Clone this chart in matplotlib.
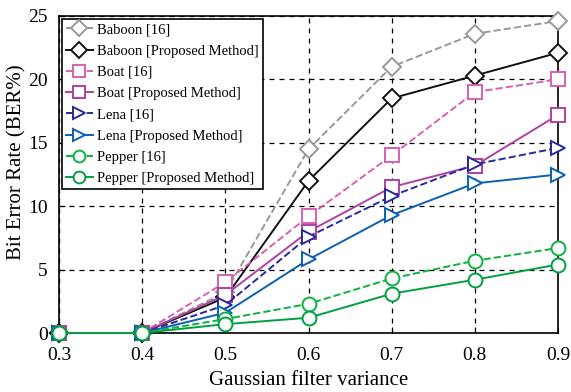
import matplotlib
matplotlib.use("Agg")
import matplotlib.pyplot as plt

plt.rcParams['font.family'] = ['Liberation Serif', 'DejaVu Serif']

variance = [0.3, 0.4, 0.5, 0.6, 0.7, 0.8, 0.9]
baboon_ref = [0, 0, 3.2, 14.5, 21.0, 23.6, 24.6]
baboon_prop = [0, 0, 2.8, 12.0, 18.5, 20.3, 22.1]
boat_ref = [0, 0, 4.0, 9.2, 14.0, 19.0, 20.0]
boat_prop = [0, 0, 3.0, 8.0, 11.5, 13.2, 17.2]
lena_ref = [0, 0, 2.2, 7.6, 10.8, 13.3, 14.6]
lena_prop = [0, 0, 1.6, 5.8, 9.3, 11.8, 12.5]
pepper_ref = [0, 0, 1.1, 2.3, 4.3, 5.7, 6.7]
pepper_prop = [0, 0, 0.7, 1.2, 3.1, 4.2, 5.4]

series = [
    ("Baboon [16]", baboon_ref, "#999999", "--", "D"),
    ("Baboon [Proposed Method]", baboon_prop, "#111111", "-", "D"),
    ("Boat [16]", boat_ref, "#d860b0", "--", "s"),
    ("Boat [Proposed Method]", boat_prop, "#b040a0", "-", "s"),
    ("Lena [16]", lena_ref, "#2828a0", "--", ">"),
    ("Lena [Proposed Method]", lena_prop, "#0a60b0", "-", ">"),
    ("Pepper [16]", pepper_ref, "#10b040", "--", "o"),
    ("Pepper [Proposed Method]", pepper_prop, "#00a040", "-", "o"),
]

fig = plt.figure(figsize=(5.71, 3.92), dpi=100)
ax = fig.add_axes([59/571, 1 - 333/392, 499/571, 317/392])

for label, vals, col, ls, mk in series:
    ms = 10 if mk != "D" else 9
    ax.plot(variance, vals, color=col, linestyle=ls, linewidth=1.4,
            marker=mk, markersize=ms, markerfacecolor="white",
            markeredgecolor=col, markeredgewidth=1.4, label=label,
            clip_on=False, zorder=3)

ax.set_xlim(0.3, 0.9)
ax.set_ylim(0, 25)
ax.set_xticks(variance)
ax.set_xticklabels([f"{v:.1f}" for v in variance])
ax.set_yticks([0, 5, 10, 15, 20, 25])
ax.tick_params(labelsize=14, direction="in", length=4)
ax.tick_params(axis="x", pad=10)
ax.tick_params(axis="y", pad=8)
ax.grid(True, color="black", linestyle=(0, (4, 4)), linewidth=0.9)
for s in ax.spines.values():
    s.set_linewidth(1.2)
ax.set_xlabel("Gaussian filter variance", fontsize=15, labelpad=5)
ax.set_ylabel("Bit Error Rate (BER%)", fontsize=15)
ax.yaxis.set_label_coords(-0.066, 0.54)

leg = ax.legend(loc="upper left", fontsize=10.5, fancybox=False, framealpha=1,
                edgecolor="black", borderaxespad=0.2, handlelength=1.8,
                labelspacing=0.55, borderpad=0.3, handletextpad=0.3,
                markerscale=0.85)
leg.get_frame().set_linewidth(1.2)
leg.set_zorder(5)

fig.savefig("out.png", dpi=100)
